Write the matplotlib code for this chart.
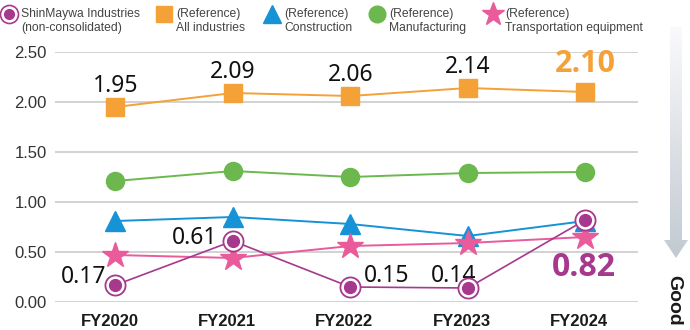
import numpy as np
import matplotlib
matplotlib.use("Agg")
import matplotlib.pyplot as plt
import matplotlib.transforms as mtransforms
from matplotlib.patches import Polygon

# ---- data -------------------------------------------------------------
years = ["FY2020", "FY2021", "FY2022", "FY2023", "FY2024"]
shinmaywa = [0.17, 0.61, 0.15, 0.14, 0.82]
all_industries = [1.95, 2.09, 2.06, 2.14, 2.10]
construction = [0.81, 0.85, 0.78, 0.66, 0.81]
manufacturing = [1.21, 1.31, 1.25, 1.29, 1.30]
transportation = [0.47, 0.44, 0.56, 0.59, 0.65]
y_ticks = [0.0, 0.5, 1.0, 1.5, 2.0, 2.5]
legend_labels = [
    "ShinMaywa Industries\n(non-consolidated)",
    "(Reference)\nAll industries",
    "(Reference)\nConstruction",
    "(Reference)\nManufacturing",
    "(Reference)\nTransportation equipment",
]

PURPLE = "#a6388e"
ORANGE = "#f4a137"
BLUE = "#1593d6"
GREEN = "#6cb84e"
PINK = "#e95b9b"
GRID = "#cfcfcf"
TEXT = "#333333"

LEGFONT = ["Liberation Sans", "DejaVu Sans"]
NUMFONT = ["Noto Sans", "DejaVu Sans"]
BOLDFONT = ["Open Sans", "Lato", "DejaVu Sans"]

W, H = 690, 330
fig = plt.figure(figsize=(W / 100, H / 100), dpi=100)
fig.patch.set_facecolor("white")

ax = fig.add_axes([55 / W, (H - 302) / H, (638 - 55) / W, (302 - 52) / H])
x = np.arange(len(years))

# gridlines
ax.set_ylim(0, 2.5)
ax.set_xlim(-0.515, 4.45)
ax.set_yticks(y_ticks)
ax.set_yticklabels([f"{v:.2f}" for v in y_ticks], family="Liberation Sans",
                   fontsize=12, color=TEXT)
ax.yaxis.grid(True, color=GRID, linewidth=1.3)
ax.set_axisbelow(True)
for s in ax.spines.values():
    s.set_visible(False)
ax.tick_params(axis="y", length=0, pad=6)
ax.tick_params(axis="x", length=0, pad=9)
ax.set_xticks(x)
ax.set_xticklabels(years, family="Liberation Sans", fontsize=12,
                   fontweight="bold", color="#1a1a1a")
shift = mtransforms.ScaledTranslation(-6 / 100, 0, fig.dpi_scale_trans)
for lbl in ax.get_xticklabels():
    lbl.set_transform(lbl.get_transform() + shift)

# series
ax.plot(x, all_industries, color=ORANGE, lw=1.4, marker="s", ms=12.5,
        mec=ORANGE, mfc=ORANGE, zorder=3, clip_on=False)
ax.plot(x, manufacturing, color=GREEN, lw=1.4, marker="o", ms=13,
        mec=GREEN, mfc=GREEN, zorder=3, clip_on=False)
ax.plot(x, construction, color=BLUE, lw=1.4, marker="^", ms=15,
        mec=BLUE, mfc=BLUE, zorder=4, clip_on=False)
ax.plot(x, transportation, color=PINK, lw=1.4, marker="*", ms=19,
        mec=PINK, mfc=PINK, zorder=5, clip_on=False)
ax.plot(x, shinmaywa, color=PURPLE, lw=1.2, marker="o", ms=14.5,
        mec=PURPLE, mfc="white", mew=1.3, zorder=6, clip_on=False)
ax.plot(x, shinmaywa, ls="none", marker="o", ms=8.5, mec=PURPLE,
        mfc=PURPLE, zorder=7, clip_on=False)

# value labels (offsets in pixels from the marker: dx, dy to baseline)
orange_off = [(0, 15), (0, 15), (0, 15), (0, 15), (0, 20)]
for i, (v, (dx, dy)) in enumerate(zip(all_industries, orange_off)):
    last = i == len(all_industries) - 1
    ax.annotate(f"{v:.2f}", xy=(x[i], v), xytext=(dx, dy),
                textcoords="offset pixels", ha="center", va="baseline",
                family=BOLDFONT if last else NUMFONT,
                fontsize=22 if last else 16.5,
                fontweight="bold" if last else "normal",
                color=ORANGE if last else "#111111", annotation_clip=False)

purple_off = [(-32, 2), (-38, -3), (36, 5), (-14, 6), (-1, -56)]
for i, (v, (dx, dy)) in enumerate(zip(shinmaywa, purple_off)):
    last = i == len(shinmaywa) - 1
    ax.annotate(f"{v:.2f}", xy=(x[i], v), xytext=(dx, dy),
                textcoords="offset pixels", ha="center", va="baseline",
                family=BOLDFONT if last else NUMFONT,
                fontsize=23 if last else 16.5,
                fontweight="bold" if last else "normal",
                color=PURPLE if last else "#111111", annotation_clip=False)

# ---- overlay in pixel coordinates: legend and arrow ---------------------
ov = fig.add_axes([0, 0, 1, 1], facecolor="none")
ov.set_xlim(0, W)
ov.set_ylim(H, 0)
ov.axis("off")

legend_x = [9, 164, 272, 377, 493]
legend_styles = [
    dict(marker="o", ms=13, mec=PURPLE, mfc="white", mew=1.2),
    dict(marker="s", ms=11, mec=ORANGE, mfc=ORANGE),
    dict(marker="^", ms=13, mec=BLUE, mfc=BLUE),
    dict(marker="o", ms=12, mec=GREEN, mfc=GREEN),
    dict(marker="*", ms=17, mec=PINK, mfc=PINK),
]
for lx, st, lab in zip(legend_x, legend_styles, legend_labels):
    ov.plot([lx], [14], ls="none", **st)
    ov.text(lx + 12, 21, lab, family=LEGFONT, fontsize=8.7, color="#444444",
            ha="left", va="center", linespacing=1.2)
ov.plot([9], [14], ls="none", marker="o", ms=7, mec=PURPLE, mfc=PURPLE)

# gradient arrow
arrow = Polygon([(670, 27), (682, 27), (682, 240), (688, 240), (676, 258),
                 (664, 240), (670, 240)], closed=True, transform=ov.transData,
                facecolor="none", edgecolor="none")
ov.add_patch(arrow)
grad = np.linspace(0, 1, 256)[:, None]
top = np.array([0.98, 0.98, 0.99])
bot = np.array([0.76, 0.79, 0.82])
img = top + (bot - top) * grad[..., None]
im = ov.imshow(np.repeat(img, 2, axis=1), extent=(664, 688, 258, 27),
               aspect="auto", origin="upper", interpolation="bilinear")
im.set_clip_path(arrow)
ov.set_xlim(0, W)
ov.set_ylim(H, 0)

ov.text(674, 300, "Good", rotation=-90, family="Liberation Sans",
        fontsize=14, fontweight="bold", color="#1a1a1a",
        ha="center", va="center")

fig.savefig("out.png", dpi=100)
